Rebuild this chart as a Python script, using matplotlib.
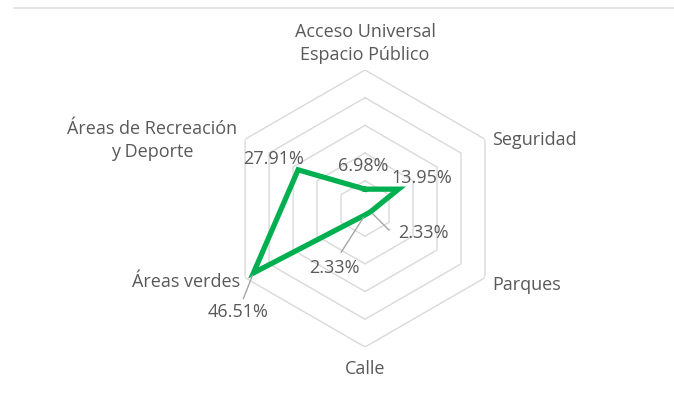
import numpy as np
import matplotlib
matplotlib.use("Agg")
import matplotlib.pyplot as plt

categories = ["Acceso Universal\nEspacio Público", "Seguridad", "Parques",
              "Calle", "Áreas verdes", "Áreas de Recreación\ny Deporte"]
values = [6.98, 13.95, 2.33, 2.33, 46.51, 27.91]
rings = [10, 20, 30, 40, 50]

plt.rcParams['font.family'] = ['Open Sans', 'DejaVu Sans']
txt_col = '#595959'
green = '#00b050'

fig = plt.figure(figsize=(6.74, 4.05), dpi=100)
# thin rule along the top
fig.add_artist(plt.Line2D([14 / 674, 1], [397 / 405, 397 / 405], color='#e3e3e3', lw=1.5))

ax = fig.add_axes([0.3361, 0.1432, 0.411, 0.684], projection='polar')
ax.set_theta_offset(np.pi / 2)
ax.set_theta_direction(-1)
ax.set_ylim(0, 50)
ax.grid(False)
ax.set_xticks([])
ax.set_yticks([])
ax.spines['polar'].set_visible(False)
ax.patch.set_alpha(0)

n = len(categories)
theta = np.linspace(0, 2 * np.pi, n, endpoint=False)
tc = np.append(theta, theta[0])

for r in rings:
    ax.plot(tc, [r] * (n + 1), color='#d9d9d9', lw=1, zorder=1)

vc = values + values[:1]
ax.plot(tc, vc, color=green, lw=3.8, zorder=3, solid_joinstyle='miter')

# category labels, offset from the outer vertex (points)
fs = 13
lab_pos = [(0, 19, 'center'), (5, -0.8, 'left'), (5, -5, 'left'),
           (0, -15.8, 'center'), (-3.6, -3.4, 'right'), (-5.8, -0.8, 'right')]
for t, lab, (dx, dy, ha) in zip(theta, categories, lab_pos):
    ax.annotate(lab, xy=(t, rings[-1]), xytext=(dx, dy), textcoords='offset points',
                ha=ha, va='center', multialignment='center', fontsize=fs,
                color=txt_col, linespacing=1.35)

# value labels (offsets in points)
grey_line = dict(arrowstyle='-', color='#a6a6a6', lw=1, shrinkA=1, shrinkB=2)
offs = [(-1, 16.5), (17, 8), (38, -15), (-22, -38), (-11, -28), (-18, 8)]
for t, v, (dx, dy) in zip(theta, values, offs):
    arrow = None
    if v > 40:
        arrow = grey_line
    elif v < 5 and dx > 0:
        arrow = dict(grey_line, connectionstyle='angle,angleA=0,angleB=-45,rad=0',
                     relpos=(0, 0.65), shrinkA=4)
    elif v < 5:
        arrow = dict(grey_line, relpos=(0.55, 1), shrinkA=3)
    ax.annotate(f"{v:.2f}%", xy=(t, v), xytext=(dx, dy), textcoords='offset points',
                ha='center', va='center', fontsize=fs, color=txt_col,
                arrowprops=arrow, zorder=4)

fig.savefig("out.png", dpi=100)
